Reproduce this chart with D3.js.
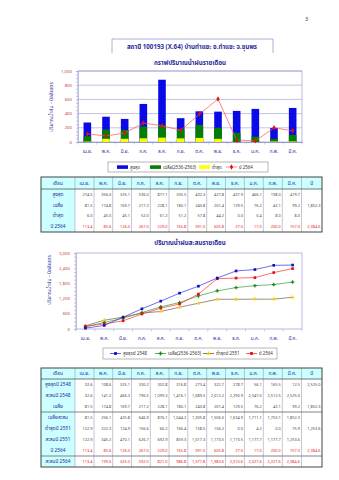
<!DOCTYPE html>
<html><head><meta charset="utf-8">
<script src="https://cdn.jsdelivr.net/npm/d3@7"></script>
<style>
html,body{margin:0;padding:0;background:#fff;}
svg{display:block;font-family:"Noto Sans Thai","Loma","Garuda","Tahoma","DejaVu Sans",sans-serif;}
</style></head>
<body>
<svg id="c" width="339" height="480"></svg>
<script>
// ---------------- DATA ----------------
const months = ["เม.ย.","พ.ค.","มิ.ย.","ก.ค.","ส.ค.","ก.ย.","ต.ค.","พ.ย.","ธ.ค.","ม.ค.","ก.พ.","มี.ค."];
const maxRain = [274.5,356.0,325.1,536.0,877.1,335.5,432.3,427.8,437.9,466.1,198.0,479.7];
const avgRain = [81.5,174.8,169.7,217.2,228.1,180.1,240.8,201.4,129.5,76.2,42.1,99.2];
const minRain = [6.0,45.0,45.1,52.0,61.2,51.2,57.8,44.2,0.0,0.4,8.0,8.0];
const rain2564 = [113.4,85.6,126.0,267.0,229.0,165.8,391.0,605.8,27.0,17.0,200.0,157.0];
const max2548 = [32.6,108.6,325.1,330.2,302.8,316.8,273.4,322.7,278.7,56.1,165.5,12.5];
const cumMax2548 = [32.6,141.2,466.3,796.5,1099.3,1416.1,1689.5,2012.2,2290.9,2347.0,2512.5,2525.0];
const cumAvg = [81.5,256.1,425.8,646.9,876.1,1044.2,1305.8,1506.0,1634.9,1711.1,1753.1,1852.3];
const min2551 = [122.9,222.3,124.9,156.6,66.2,166.4,158.0,156.2,0.0,4.2,0.0,75.9];
const cumMin2551 = [122.9,345.2,470.1,626.7,692.9,859.3,1017.3,1173.5,1173.5,1177.7,1177.7,1253.6];
const cum2564 = [113.4,199.0,325.0,592.0,821.0,986.8,1377.8,1983.6,2010.6,2027.6,2227.6,2384.6];
const totals = {avg:"1,852.3", y2564:"2,384.6", max2548:"2,525.0", min2551:"1,253.6"};
const ticks1 = [0,200,400,600,800,1000];
const ticks2 = [0,600,1200,1800,2400,3000];
const pageTitle = "สถานี 100193 (X.64) บ้านท่าแซะ อ.ท่าแซะ จ.ชุมพร";
const title1 = "กราฟปริมาณน้ำฝนรายเดือน";
const title2 = "ปริมาณน้ำฝนสะสมรายเดือน";
const yLabel = "ปริมาณน้ำฝน - มิลลิเมตร";
const legend1 = ["สูงสุด","เฉลี่ย(2536-2563)","ต่ำสุด","ปี 2564"];
const legend2 = ["สูงสุดปี 2548","เฉลี่ย(2536-2563)","ต่ำสุดปี 2551","ปี 2564"];

// ---------------- DRAW ----------------
const svg = d3.select("#c");
const fmt = d3.format(",.1f");
const TXT = "#2b2b9a", TICK = "#c84040", AX = "#9a9ad0";

svg.append("text").attr("x",305).attr("y",21).attr("font-size",5.5).attr("fill","#333").text("3");
svg.append("path").attr("d","M112,53V39H273V53").attr("fill","none").attr("stroke","#9a9ad0").attr("stroke-width",0.8);
svg.append("text").attr("x",192).attr("y",49).attr("text-anchor","middle").attr("font-size",6.2).attr("font-weight","bold").attr("fill",TXT).text(pageTitle);

// ---- chart 1
const x1 = d3.scaleBand().domain(months).range([78,302]);
const y1 = d3.scaleLinear().domain([0,1000]).range([142,71]);
svg.append("text").attr("x",190).attr("y",65).attr("text-anchor","middle").attr("font-size",6.2).attr("font-weight","bold").attr("fill",TXT).text(title1);
const g1 = svg.append("g");
g1.selectAll(".gl").data(ticks1.slice(1)).join("line")
  .attr("x1",78).attr("x2",302).attr("y1",d=>y1(d)).attr("y2",d=>y1(d)).attr("stroke",AX).attr("stroke-width",0.6);
g1.append("rect").attr("x",78).attr("y",71).attr("width",224).attr("height",71).attr("fill","none").attr("stroke",AX).attr("stroke-width",0.7);
const ya1 = g1.append("g").attr("transform","translate(78,0)").call(d3.axisLeft(y1).tickValues(d3.range(0,1001,50)).tickSize(2).tickFormat(""));
ya1.selectAll("path,line").attr("stroke",AX).attr("stroke-width",0.5);
g1.selectAll(".yt").data(ticks1).join("text").attr("x",72).attr("y",d=>y1(d)+1.5).attr("text-anchor","end")
  .attr("font-size",4.3).attr("fill",TICK).text(d=>d3.format(",")(d));
const xa1 = g1.append("g").attr("transform","translate(0,142)").call(d3.axisBottom(x1).tickSize(0).tickFormat(""));
xa1.selectAll("path").attr("stroke",AX);
g1.selectAll(".xtk").data(d3.range(13)).join("line").attr("x1",d=>78+d*x1.step()).attr("x2",d=>78+d*x1.step())
  .attr("y1",142).attr("y2",144.5).attr("stroke",AX).attr("stroke-width",0.5);
g1.selectAll(".xl").data(months).join("text").attr("x",d=>x1(d)+x1.bandwidth()/2).attr("y",153).attr("text-anchor","middle")
  .attr("font-size",4.6).attr("fill",TXT).text(d=>d);
const bw = 7.6;
[[maxRain,"#0a0ae6"],[avgRain,"#007f00"],[minRain,"#ffff00"]].forEach(([arr,col])=>{
  g1.selectAll(null).data(arr).join("rect").attr("x",(d,i)=>x1(months[i])+x1.bandwidth()/2-bw/2).attr("width",bw)
    .attr("y",d=>y1(d)).attr("height",d=>y1(0)-y1(d)).attr("fill",col);
});
const line1 = d3.line().x((d,i)=>x1(months[i])+x1.bandwidth()/2).y(d=>y1(d));
g1.append("path").datum(rain2564).attr("d",line1).attr("fill","none").attr("stroke","#ff5050").attr("stroke-width",0.7);
g1.selectAll(".rm").data(rain2564).join("path").attr("transform",(d,i)=>`translate(${x1(months[i])+x1.bandwidth()/2},${y1(d)})`)
  .attr("d",d3.symbol(d3.symbolDiamond,9)).attr("fill","#e01010");
svg.append("text").attr("transform","translate(53,107) rotate(-90)").attr("text-anchor","middle").attr("font-size",5)
  .attr("fill",TXT).text(yLabel);

// legend 1
const lg1 = svg.append("g");
lg1.append("rect").attr("x",108).attr("y",162).attr("width",160).attr("height",10).attr("fill","#fff").attr("stroke","#888").attr("stroke-width",0.6);
const l1x = [117,150,199,226];
[["#0a0ae6","rect"],["#007f00","rect"],["#ffff00","rect"],["#e01010","line"]].forEach(([c,t],i)=>{
  if(t==="rect") lg1.append("rect").attr("x",l1x[i]).attr("y",165.3).attr("width",11).attr("height",3.6).attr("fill",c);
  else { lg1.append("line").attr("x1",l1x[i]).attr("x2",l1x[i]+11).attr("y1",167).attr("y2",167).attr("stroke","#ff5050").attr("stroke-width",0.7);
         lg1.append("path").attr("transform",`translate(${l1x[i]+5.5},167)`).attr("d",d3.symbol(d3.symbolDiamond,9)).attr("fill",c); }
  lg1.append("text").attr("x",l1x[i]+13).attr("y",168.8).attr("font-size",4.4).attr("fill","#333").text(legend1[i]);
});

// ---- tables
const colX = [41,75,94,112.7,131.5,150.3,169,187.8,206.7,225.5,244.4,263.3,282.3,301.5,322];
function drawTable(top, headH, rowH, rows, seps){
  const g = svg.append("g");
  const H = headH + rowH*rows.length;
  g.append("rect").attr("x",colX[0]).attr("y",top).attr("width",colX[14]-colX[0]).attr("height",headH).attr("fill","#ccffff");
  g.append("rect").attr("x",colX[0]).attr("y",top).attr("width",colX[1]-colX[0]).attr("height",H).attr("fill","#ccffff");
  colX.slice(1,14).forEach(x=>g.append("line").attr("x1",x).attr("x2",x).attr("y1",top).attr("y2",top+H).attr("stroke","#8a8aa8").attr("stroke-width",0.5));
  g.append("line").attr("x1",colX[0]).attr("x2",colX[14]).attr("y1",top+headH).attr("y2",top+headH).attr("stroke","#555").attr("stroke-width",0.8);
  seps.forEach(r=>g.append("line").attr("x1",colX[0]).attr("x2",colX[14]).attr("y1",top+headH+rowH*r).attr("y2",top+headH+rowH*r).attr("stroke","#777").attr("stroke-width",0.9));
  g.append("rect").attr("x",colX[0]).attr("y",top).attr("width",colX[14]-colX[0]).attr("height",H).attr("fill","none").attr("stroke","#444").attr("stroke-width",1);
  const heads = ["เดือน"].concat(months,["ปี"]);
  heads.forEach((h,i)=>g.append("text").attr("x",(colX[i]+colX[i+1])/2).attr("y",top+headH/2+1.7).attr("text-anchor","middle")
     .attr("font-size",4.8).attr("fill",TXT).text(h));
  rows.forEach((r,ri)=>{
    const cy = top+headH+rowH*ri+rowH/2+1.5;
    g.append("text").attr("x",(colX[0]+colX[1])/2).attr("y",cy).attr("text-anchor","middle").attr("font-size",4.8).attr("fill",TXT).text(r.label);
    r.vals.forEach((v,i)=>g.append("text").attr("x",colX[i+2]-1.5).attr("y",cy).attr("text-anchor","end").attr("font-size",3.9)
       .attr("fill",r.red?"#e02020":"#444").text(fmt(v)));
    if(r.total) g.append("text").attr("x",colX[14]-1.5).attr("y",cy).attr("text-anchor","end").attr("font-size",3.9)
       .attr("fill",r.red?"#e02020":"#444").text(r.total);
  });
}
drawTable(177,12,10.75,[
  {label:"สูงสุด",vals:maxRain},
  {label:"เฉลี่ย",vals:avgRain,total:totals.avg},
  {label:"ต่ำสุด",vals:minRain},
  {label:"ปี 2564",vals:rain2564,total:totals.y2564,red:true}
],[]);

// ---- chart 2
const x2 = d3.scalePoint().domain(months).range([76,302]).padding(0.5);
const y2 = d3.scaleLinear().domain([0,3000]).range([329,253]);
svg.append("text").attr("x",190).attr("y",245).attr("text-anchor","middle").attr("font-size",6.2).attr("font-weight","bold").attr("fill",TXT).text(title2);
const g2 = svg.append("g");
g2.append("rect").attr("x",76).attr("y",253).attr("width",226).attr("height",76).attr("fill","none").attr("stroke",AX).attr("stroke-width",0.7);
const ya2 = g2.append("g").attr("transform","translate(76,0)").call(d3.axisLeft(y2).tickValues(d3.range(0,3001,150)).tickSize(2).tickFormat(""));
ya2.selectAll("path,line").attr("stroke",AX).attr("stroke-width",0.5);
g2.selectAll(".yt").data(ticks2).join("text").attr("x",70).attr("y",d=>y2(d)+1.5).attr("text-anchor","end")
  .attr("font-size",4.3).attr("fill",TICK).text(d=>d3.format(",")(d));
g2.selectAll(".xtk").data(d3.range(13)).join("line").attr("x1",d=>76+d*x2.step()).attr("x2",d=>76+d*x2.step())
  .attr("y1",329).attr("y2",331.5).attr("stroke",AX).attr("stroke-width",0.5);
g2.selectAll(".xl").data(months).join("text").attr("x",d=>x2(d)).attr("y",340).attr("text-anchor","middle")
  .attr("font-size",4.6).attr("fill",TXT).text(d=>d);
svg.append("text").attr("transform","translate(51,280) rotate(-90)").attr("text-anchor","middle").attr("font-size",5)
  .attr("fill",TXT).text(yLabel);
const line2 = d3.line().x((d,i)=>x2(months[i])).y(d=>y2(d));
const series2 = [
  {vals:cumMin2551, line:"#6b6040", mark:"#ffcc00", sym:d3.symbolTriangle},
  {vals:cumAvg, line:"#3a9a3a", mark:"#1a8a1a", sym:d3.symbolCross},
  {vals:cum2564, line:"#ff3030", mark:"#e01010", sym:d3.symbolSquare},
  {vals:cumMax2548, line:"#3030e0", mark:"#1010c0", sym:d3.symbolSquare}
];
series2.forEach(s=>{
  g2.append("path").datum(s.vals).attr("d",line2).attr("fill","none").attr("stroke",s.line).attr("stroke-width",0.7);
  g2.selectAll(null).data(s.vals).join("path").attr("transform",(d,i)=>`translate(${x2(months[i])},${y2(d)})`)
    .attr("d",d3.symbol(s.sym,7)).attr("fill",s.mark);
});
// legend 2
const lg2 = svg.append("g");
lg2.append("rect").attr("x",103).attr("y",348).attr("width",174).attr("height",11).attr("fill","#fff").attr("stroke","#888").attr("stroke-width",0.6);
const l2x = [110,155,203,246];
const l2s = [series2[3],series2[1],series2[0],series2[2]];
l2s.forEach((s,i)=>{
  lg2.append("line").attr("x1",l2x[i]).attr("x2",l2x[i]+11).attr("y1",353.5).attr("y2",353.5).attr("stroke",s.line).attr("stroke-width",0.8);
  lg2.append("path").attr("transform",`translate(${l2x[i]+5.5},353.5)`).attr("d",d3.symbol(s.sym,8)).attr("fill",s.mark);
  lg2.append("text").attr("x",l2x[i]+13).attr("y",355.3).attr("font-size",4.4).attr("fill","#333").text(legend2[i]);
});

drawTable(368,11,11,[
  {label:"สูงสุดปี 2548",vals:max2548,total:totals.max2548},
  {label:"สะสมปี 2548",vals:cumMax2548},
  {label:"เฉลี่ย",vals:avgRain,total:totals.avg},
  {label:"เฉลี่ยสะสม",vals:cumAvg},
  {label:"ต่ำสุดปี 2551",vals:min2551,total:totals.min2551},
  {label:"สะสมปี 2551",vals:cumMin2551},
  {label:"ปี 2564",vals:rain2564,total:totals.y2564,red:true},
  {label:"สะสมปี 2564",vals:cum2564,red:true}
],[3,7]);
</script>
</body></html>
